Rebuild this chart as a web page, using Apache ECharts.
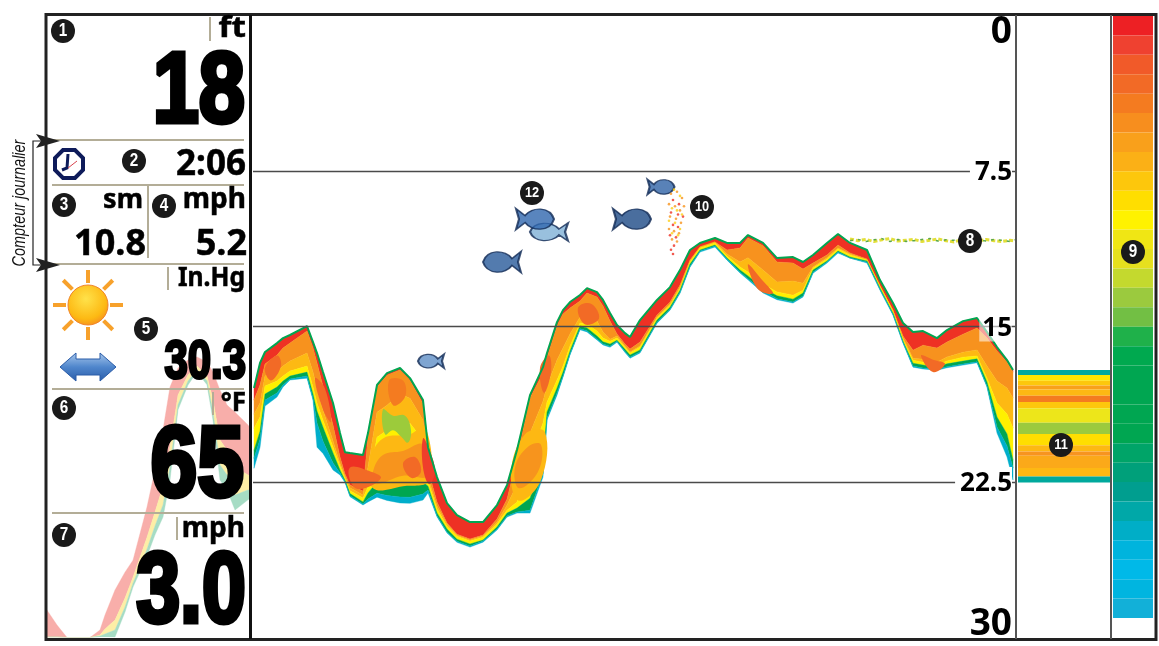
<!DOCTYPE html>
<html>
<head>
<meta charset="utf-8">
<style>
    html, body { margin: 0; padding: 0; background: #fff; }
    #chart { width: 1159px; height: 646px; }
</style>
<script src="https://cdn.jsdelivr.net/npm/echarts@6/dist/echarts.min.js"></script>
</head>
<body>
<div id="chart"></div>
<script>
// sonar history: one entry per ping, depths in ft, band values are thickness in ft
const pings = [1,7,12,24,30,37,54,60,64,70, 80,87,92,97,110,115,124,134,147,157, 170,175,184,194,204,217,230,244,254,264, 277,290,294,304,310,317,327,334,344,350, 357,364,372,377,387,404,417,427,437,447, 462,474,487,495,510,524,540,550,560,574, 585,597,614,627,640,650,660,670,684,694, 710,724,734,744,754,760];
const bottomTop = [17.97,16.76,16.23,15.80,15.56,15.41,14.98,15.75,16.28,17.20, 18.69,20.14,21.06,21.10,21.20,20.14,17.82,17.25,17.00,17.49, 18.55,20.82,22.26,23.52,24.10,24.43,24.43,23.61,22.65,20.96, 18.31,16.96,16.28,14.79,14.21,13.82,13.48,13.15,13.34,13.72, 14.35,14.93,15.32,15.51,14.69,13.72,13.10,12.28,11.31,10.97, 10.73,10.97,10.97,10.59,10.97,11.70,11.65,11.89,11.55,10.97, 10.54,10.97,11.31,12.76,13.87,14.83,15.27,15.22,15.56,15.17, 14.74,14.59,15.27,15.99,16.62,17.10];
const redBand = [.58,1.06,.58,.58,.48,.39,.24,.29,.48,.68, 1.06,1.16,1.06,1.54,1.74,.19,.1,.1,.1,.1, .19,1.06,1.21,.96,.92,.82,.63,.68,.68,.39, .14,.29,.24,.19,.19,.29,.29,.24,.24,.29, .39,.43,.53,.58,1.06,.72,.72,.72,.48,.19, .19,.34,.24,.14,.14,.19,.29,.34,.39,.58, .53,.48,.43,.29,.34,.63,.87,.68,.48,.58, .63,.48,.29,.19,.1,.1];
const orangeBand = [.68,.87,.58,.77,.87,.87,1.06,1.16,1.25,1.16, .77,.29,.1,.14,.19,1.45,1.21,1.45,1.16,.87, .77,.39,.19,.05,.05,.05,.05,.14,.29,1.25, 1.69,1.35,1.35,1.64,1.64,1.25,.77,1.06,1.16,1.25, .87,.1,.1,.14,.19,.1,.1,.1,.05,0, 0,.19,.68,.96,1.16,.96,.87,.68,.19,.14, .14,.05,.05,0,.05,.1,.39,.68,.68,.72, .87,1.06,1.35,1.45,1.25,1.25];
const amberBand = [.68,.68,.48,.48,.48,.48,.63,.72,.68,.48, .29,.14,.1,.14,.14,.96,1.21,1.21,1.35,1.21, .96,.19,.14,.1,.05,.05,.05,.1,.24,.87, 1.21,1.06,.77,.96,.87,.58,.29,.43,.48,.29, .1,.1,.05,.05,.05,.05,.05,.05,.05,.05, .05,.1,.24,.68,.68,.48,.68,.34,.05,.05, .05,.05,0,0,0,.05,.1,.14,.14,.19, .24,.29,.58,1.06,1.25,1.45];
const yellowBand = [1.06,.68,.39,.29,.24,.24,.29,.34,.39,.34, .29,.19,.1,.14,.19,.29,2.17,2.51,2.89,2.89, 2.03,.24,.19,.14,.14,.14,.14,.14,.14,.29, 1.93,1.93,.48,.39,.29,.24,.14,.19,.24,.19, .14,.1,.1,.1,.14,.1,.1,.1,.1,.1, .1,.1,.14,.19,.19,.19,.19,.14,.1,.1, .1,.1,.05,.1,.1,.1,.14,.14,.1,.14, .19,.14,.19,.68,.96,1.54];
const greenBand = [.39,.39,.29,.29,.19,.14,.19,.19,.58,.68, .48,.14,.05,.1,.1,.29,.53,.63,.72,.68, .58,.19,.14,.14,.1,.1,.05,.1,.14,.19, .58,.48,.29,.24,.19,.14,.14,.14,.14,.1, .1,.05,.1,.1,.1,.1,.1,.1,.1,.05, .05,.05,.1,.14,.14,.14,.14,.14,.1,.05, .05,.05,.05,.05,.05,.05,.14,.14,.1,.14, .14,.14,.19,.48,.58,.39];
const cyanBand = [.48,.39,.29,.19,.1,.05,.1,.1,1.16,.58, .34,.1,.05,.05,.05,.14,.19,.24,.29,.29, .29,.14,.05,.05,.05,.05,.05,.05,.05,.05, .14,.19,.1,.1,.05,.05,.05,.05,.05,.05, .05,.05,.05,.05,.05,.05,.05,.05,.05,.05, .05,.05,.05,.05,.1,.05,.05,.05,.05,.05, .05,0,.05,.05,.05,.05,.05,.05,.05,.05, .05,.05,.05,.29,.53,.58];

// stronger returns inside the wide sections
const patches = [
    { color: "#fdb813", points: [[118,21.4],[130,20.4],[157,20.2],[172,19.8],[176,22.4],[150,22.7],[120,22.8]] },
    { color: "#f7941d", points: [[120,22.0],[130,21.2],[150,21.0],[170,20.7],[175,22.2],[150,22.2],[122,22.6]] },
    { color: "#f26a26", points: [[97,21.8],[118,22.0],[128,22.3],[112,22.8],[100,22.7]] },
    { color: "#f26a26", points: [[150,21.6],[162,21.3],[168,22.0],[158,22.3]] },
    { color: "#ef3e2b", points: [[170,20.4],[176,20.9],[182,22.0],[176,22.6],[170,21.8]] },
    { color: "#f47b20", points: [[136,17.6],[150,17.6],[152,18.4],[140,18.8]] },
    { color: "#fdb813", points: [[258,22.0],[272,20.2],[292,20.1],[288,22.4],[266,23.4]] },
    { color: "#f7941d", points: [[262,21.8],[275,20.8],[288,20.7],[285,22.0],[266,22.8]] },
    { color: "#f26a26", points: [[287,17.0],[296,16.4],[298,17.2],[291,18.2]] },
    { color: "#f26a26", points: [[12,17.0],[24,16.4],[28,16.9],[18,17.6]] },
    { color: "#f26a26", points: [[62,17.5],[72,18.0],[78,19.6],[70,19.0]] },
    { color: "#f26a26", points: [[325,14.1],[338,13.9],[346,14.6],[332,14.9]] },
    { color: "#f26a26", points: [[668,16.4],[680,16.6],[692,16.8],[680,17.2]] },
    { color: "#f26a26", points: [[495,12.0],[510,12.8],[520,13.4],[505,13.2]] },
    { color: "#9ccb3b", points: [[130,19.0],[140,19.3],[152,19.3],[158,20.0],[155,20.6],[148,20.3],[140,20.0],[132,20.2]] }
];

// washed out trace behind the left panel
const palePings = [0,10,20,43,53,58,68,78,86,100,108,116,123,131,141,150,160,166,173,180,188,201,203];
const paleTop = [28.68,29.40,30,30,29.64,28.92,27.71,26.85,26.27,23.71,21.92,19.99,17.92,17.0,16.62,16.47,16.71,17.2,18.07,18.79,19.13,19.75,19.9];
const palePink = [1.3,.58,0,0,.24,.67,1.45,1.25,.82,1.45,2.03,2.7,2.89,1.3,.72,.43,.67,1.35,2.41,2.17,2.65,2.41,2.3];
const paleYellow = [0,0,0,0,.05,.24,.48,.43,.29,.58,.67,.92,.96,.48,.29,.19,.24,.58,1.2,1.2,1.35,.72,.7];
const paleGreen = [0,0,0,0,.05,.14,.34,.24,.19,.34,.43,.58,.63,.24,.19,.1,.19,.39,.72,.72,.72,.48,.4];

const clutterPings = [597,605,613,621,629,637,645,653,661,669,677,685,693,701,709,717,725,733,741,749,757,762];
const clutterYellow = [10.78,10.86,10.8,10.9,10.82,10.76,10.88,10.84,10.8,10.9,10.84,10.78,10.86,10.92,10.8,10.84,10.88,10.8,10.86,10.9,10.84,10.88];
const clutterGreen = [10.86,10.8,10.9,10.82,10.76,10.9,10.8,10.9,10.86,10.8,10.76,10.88,10.82,10.84,10.9,10.78,10.82,10.88,10.8,10.84,10.9,10.82];

// fish: ping, depth, length, height; fishRight ones are flipped
const fishLeft = [[178,16.67,26,14],[249,11.89,38,21],[296,10.44,38,18]];
const fishRight = [[282,9.82,38,21],[379,9.82,38,21],[408,8.27,27,15]];
const fishColors = { 178: "#5f8fc6", 249: "#285a9a", 296: "#7fb0d6", 282: "#2f67ae", 379: "#1d4a86", 408: "#2f63a6" };

const schoolOrange = [[418,8.6],[424,8.5],[429,8.8],[416,9.1],[422,9.2],[427,9.4],[431,9.2],[417,9.7],[423,9.8],[428,10.0],[416,10.3],[421,10.4],[426,10.5],[419,10.8],[424,10.9]];
const schoolRed = [[420,8.9],[426,9.1],[418,9.5],[425,9.6],[430,9.7],[420,10.1],[425,10.2],[417,10.6],[423,10.7],[421,11.1],[418,11.3],[420,11.5]];
const schoolYellow = [[421,8.4],[427,8.7],[419,9.3],[424,9.4],[429,9.6],[416,9.9],[422,10.0],[427,10.3],[419,10.5],[425,10.6]];

const depthTicks = { min: 0, max: 30, interval: 7.5 };

// flasher bar, thickness in ft from the top
const flasherStart = 17.1;
const flasherBands = [.24,.28,.22,.2,.3,.3,.3,.7,.54,.55,.3,.2,.6,.4,.3];
const flasherColors = ["#00a99d","#ffe600","#fdc70c","#f9a01b","#fdb813","#f47b20","#fdc70c","#ede61a","#9bca3e","#ffde00","#fdb813","#f79420","#fba919","#fdb813","#00a99d"];

// colour scale, top to bottom
const scaleColors = ["#ed2024","#ef4130","#f15a29","#f26a26","#f47b20","#f78e1e","#f9a01b","#fbb016","#fdc70c","#ffde00","#fff200","#f0e614","#e6e01e","#c4d92e","#9bca3e","#72bf44","#1fb14a","#00a94f","#00a651","#00a651","#00a651","#00a651","#00a468","#00a07a","#009e8f","#00a8a8","#00aec7","#00b4dd","#00b9e8","#00b5e0","#12b0d8"];

const BODY = '"Noto Sans", "Open Sans", sans-serif';
const HEAVY = '"Liberation Sans", sans-serif';

// panel readouts
const readouts = [
    { text: "ft", x: 246, y: 29, size: 29, family: BODY, sx: 1.15, heavy: .5 },
    { text: "18", x: 245, y: 94, size: 100, family: HEAVY, sx: .83, heavy: 5 },
    { text: "2:06", x: 246, y: 165, size: 35, family: BODY, heavy: .5 },
    { text: "sm", x: 143, y: 200, size: 27, family: BODY, heavy: .5 },
    { text: "mph", x: 246, y: 200, size: 28, family: BODY, heavy: .5 },
    { text: "10.8", x: 146, y: 245, size: 36, family: BODY, heavy: .5 },
    { text: "5.2", x: 247, y: 245, size: 36, family: BODY, heavy: .5 },
    { text: "In.Hg", x: 245, y: 279, size: 26, family: BODY, sx: .95, heavy: .5 },
    { text: "30.3", x: 246, y: 363, size: 53, family: HEAVY, sx: .79, heavy: 3 },
    { text: "°F", x: 246, y: 404, size: 26, family: BODY, heavy: .5 },
    { text: "65", x: 244, y: 468, size: 100, family: HEAVY, sx: .84, heavy: 5 },
    { text: "mph", x: 245, y: 529, size: 28, family: BODY, heavy: .5 },
    { text: "3.0", x: 246, y: 594, size: 100, family: HEAVY, sx: .79, heavy: 5 }
];
const badges = [
    ["1",63,31],["2",134,161],["3",64,205],["4",164,206],["5",146,329],["6",64,408],["7",64,535],
    ["8",970,241],["9",1133,252],["10",702,207],["11",1061,445],["12",532,193]
];
const panelRules = [
    [52,140,244,140],[52,185,244,185],[46,264,244,264],[52,389,244,389],[52,513,244,513],
    [148,186,148,258],[210,17,210,41],[168,267,168,290],[213,392,213,415],[177,517,177,540]
];

const FISH_PATH = "path://M0 10C4 -1 22 -1 29 7L38 1L35 10L38 19L29 13C22 21 4 21 0 10Z";

const chart = echarts.init(document.getElementById("chart"), null, { renderer: "canvas" });

// each layer is a polygon between two running depth totals, in the grid's coordinates
function layerSeries(xs, top, bands, colors, axisIdx, z) {
    const layers = [];
    let upper = top.slice();
    bands.forEach((band, b) => {
        const lower = upper.map((v, i) => v + band[i]);
        layers.push({ color: colors[b], upper: upper, lower: lower });
        upper = lower;
    });
    return {
        type: "custom",
        xAxisIndex: axisIdx,
        yAxisIndex: axisIdx,
        clip: true,
        z: z,
        data: layers.map((l, i) => [i]),
        renderItem: function (params, api) {
            const l = layers[api.value(0)];
            const points = [];
            xs.forEach((x, i) => points.push(api.coord([x, l.upper[i]])));
            for (let i = xs.length - 1; i >= 0; i--) {
                points.push(api.coord([xs[i], l.lower[i]]));
            }
            return { type: "polygon", shape: { points: points }, style: { fill: l.color, stroke: l.color, lineWidth: .4 } };
        }
    };
}

function patchSeries() {
    return {
        type: "custom",
        xAxisIndex: 0,
        yAxisIndex: 0,
        clip: true,
        data: patches.map((p, i) => [i]),
        z: 2,
        renderItem: function (params, api) {
            const p = patches[api.value(0)];
            return {
                type: "polygon",
                shape: { points: p.points.map(pt => api.coord(pt)), smooth: .4 },
                style: { fill: p.color }
            };
        }
    };
}

function fishSeries(list, rotate) {
    return {
        type: "scatter",
        xAxisIndex: 0,
        yAxisIndex: 0,
        symbol: FISH_PATH,
        symbolRotate: rotate,
        symbolSize: d => [d[2], d[3]],
        data: list.map(d => ({ value: d, itemStyle: { color: fishColors[d[0]] } })),
        itemStyle: { borderColor: "#122a55", borderWidth: 1.6 },
        z: 6
    };
}

function dotSeries(list, color) {
    return {
        type: "scatter",
        xAxisIndex: 0,
        yAxisIndex: 0,
        symbolSize: 2.6,
        data: list,
        itemStyle: { color: color },
        z: 6
    };
}

function panelGraphics() {
    const els = [];
    const Z = 100;
    // pane frame
    els.push({ type: "rect", shape: { x: 46, y: 14.5, width: 1110, height: 625 }, style: { fill: "none", stroke: "#222", lineWidth: 3 }, z: Z });
    els.push({ type: "line", shape: { x1: 250.5, y1: 15, x2: 250.5, y2: 639 }, style: { stroke: "#111", lineWidth: 3 }, z: Z });
    els.push({ type: "line", shape: { x1: 1016, y1: 15, x2: 1016, y2: 639 }, style: { stroke: "#555", lineWidth: 2 }, z: Z });
    els.push({ type: "line", shape: { x1: 1111, y1: 15, x2: 1111, y2: 639 }, style: { stroke: "#555", lineWidth: 2 }, z: Z });

    panelRules.forEach(r => els.push({ type: "line", shape: { x1: r[0], y1: r[1], x2: r[2], y2: r[3] }, style: { stroke: "#b3ad97", lineWidth: 2 }, z: Z }));

    readouts.forEach(r => els.push({
        type: "text",
        x: r.x,
        y: r.y,
        scaleX: r.sx || 1,
        style: {
            text: r.text,
            font: `bold ${r.size}px ${r.family}`,
            fill: "#000",
            stroke: r.heavy ? "#000" : null,
            lineWidth: r.heavy || 0,
            align: "right",
            verticalAlign: "middle"
        },
        z: Z + 1
    }));

    badges.forEach(b => {
        els.push({ type: "circle", shape: { cx: b[1], cy: b[2], r: 12 }, style: { fill: "#1a1a1a" }, z: Z + 2 });
        els.push({
            type: "text",
            x: b[1],
            y: b[2],
            scaleX: .85,
            style: { text: b[0], font: `bold ${b[0].length > 1 ? 15 : 18}px ${HEAVY}`, fill: "#fff", align: "center", verticalAlign: "middle" },
            z: Z + 3
        });
    });

    // sun icon
    for (let i = 0; i < 8; i++) {
        const a = i * Math.PI / 4;
        els.push({
            type: "line",
            shape: { x1: 88 + 22 * Math.cos(a), y1: 305 + 22 * Math.sin(a), x2: 88 + 35 * Math.cos(a), y2: 305 + 35 * Math.sin(a) },
            style: { stroke: "#f7a12b", lineWidth: 4 },
            z: Z
        });
    }
    els.push({
        type: "circle",
        shape: { cx: 88, cy: 305, r: 20 },
        style: {
            fill: { type: "radial", x: .45, y: .35, r: .7, colorStops: [{ offset: 0, color: "#ffe24a" }, { offset: .7, color: "#fdb913" }, { offset: 1, color: "#f58a1f" }] },
            stroke: "#f0842a",
            lineWidth: 1
        },
        z: Z
    });

    // pressure trend arrow
    els.push({
        type: "polygon",
        shape: { points: [[60,367],[76,353],[76,359],[100,359],[100,353],[116,367],[100,381],[100,375],[76,375],[76,381]] },
        style: {
            fill: { type: "linear", x: 0, y: 0, x2: 0, y2: 1, colorStops: [{ offset: 0, color: "#a9c8ec" }, { offset: .5, color: "#4f86cc" }, { offset: 1, color: "#2a5ca8" }] },
            stroke: "#2a5ca8",
            lineWidth: 1
        },
        z: Z
    });

    // clock icon
    els.push({
        type: "polygon",
        shape: { points: [[63,150],[75,150],[83,158],[83,170],[75,178],[63,178],[55,170],[55,158]] },
        style: { fill: "#fff", stroke: "#0e1b5a", lineWidth: 4 },
        z: Z
    });
    els.push({ type: "polyline", shape: { points: [[68,154],[67,168],[62,170]] }, style: { fill: "none", stroke: "#0e1b5a", lineWidth: 3 }, z: Z });
    els.push({ type: "line", shape: { x1: 68, y1: 168, x2: 77, y2: 161 }, style: { stroke: "#d8434e", lineWidth: 1 }, z: Z });

    // side note outside the frame
    els.push({
        type: "text",
        x: 20,
        y: 203,
        rotation: Math.PI / 2,
        scaleX: .76,
        style: { text: "Compteur journalier", font: `italic 19px ${HEAVY}`, fill: "#111", align: "center", verticalAlign: "middle" },
        z: Z
    });
    els.push({ type: "polyline", shape: { points: [[44,141],[33,141],[33,265],[44,265]] }, style: { fill: "none", stroke: "#222", lineWidth: 1.2 }, z: Z });
    [141, 265].forEach(y => els.push({
        type: "polygon",
        shape: { points: [[60,y],[36,y - 7],[41,y],[36,y + 7]] },
        style: { fill: "#222" },
        z: Z + 1
    }));
    return els;
}

const option = {
    animation: false,
    backgroundColor: "#fff",
    grid: [
        { left: 253, top: 15.5, width: 763, height: 622 },
        { left: 47, top: 15.5, width: 203, height: 622 },
        { left: 1018, top: 15.5, width: 92, height: 622 },
        { left: 1113, top: 16, width: 40, height: 602 }
    ],
    xAxis: [
        { gridIndex: 0, type: "value", min: 0, max: 763, show: false },
        { gridIndex: 1, type: "value", min: 0, max: 203, show: false },
        { gridIndex: 2, type: "category", data: ["flasher"], show: false },
        { gridIndex: 3, type: "value", min: 0, max: 1, show: false }
    ],
    yAxis: [
        {
            gridIndex: 0,
            type: "value",
            inverse: true,
            position: "right",
            min: depthTicks.min,
            max: depthTicks.max,
            interval: depthTicks.interval,
            z: 10,
            axisLine: { show: false },
            axisTick: { show: false },
            splitLine: { show: true, showMinLine: false, showMaxLine: false, lineStyle: { color: "#4a4a4a", width: 1.4 } },
            axisLabel: {
                inside: true,
                margin: 4,
                verticalAlignMinLabel: "top",
                verticalAlignMaxLabel: "bottom",
                formatter: v => (v === 0 || v === 30) ? `{big|${v}}` : (v === 15 ? `{soft|${v}}` : `{mid|${v}}`),
                rich: {
                    big: { fontFamily: BODY, fontWeight: "bold", fontSize: 37, lineHeight: 30, color: "#000", padding: [3, 0, 0, 0] },
                    mid: { fontFamily: BODY, fontWeight: "bold", fontSize: 26, lineHeight: 24, color: "#000", backgroundColor: "#fff", padding: [4, 0, 0, 5] },
                    soft: { fontFamily: BODY, fontWeight: "bold", fontSize: 26, lineHeight: 24, color: "#000", backgroundColor: "rgba(255,255,255,0.55)", padding: [4, 0, 0, 3] }
                }
            }
        },
        { gridIndex: 1, type: "value", inverse: true, min: 0, max: 30, show: false },
        { gridIndex: 2, type: "value", inverse: true, min: 0, max: 30, show: false },
        { gridIndex: 3, type: "category", inverse: true, data: scaleColors.map((c, i) => i + 1), show: false }
    ],
    series: [
        // faded trace
        layerSeries(palePings, paleTop, [palePink, paleYellow, paleGreen], ["#f8aeaa", "#fdeea6", "#a6dcc4"], 1, 1),

        // main trace
        layerSeries(pings, bottomTop,
            [redBand, orangeBand, amberBand, yellowBand, greenBand, cyanBand],
            ["#ee3124", "#f7921e", "#fdb913", "#fff000", "#00a651", "#00aecb"], 0, 2),
        patchSeries(),
        {
            name: "bottom",
            type: "line",
            xAxisIndex: 0,
            yAxisIndex: 0,
            showSymbol: false,
            data: pings.map((x, i) => [x, bottomTop[i]]),
            lineStyle: { width: 2, color: "#00a651" },
            z: 3
        },

        // surface clutter
        {
            type: "line", xAxisIndex: 0, yAxisIndex: 0, showSymbol: false,
            data: clutterPings.map((x, i) => [x, clutterYellow[i]]),
            lineStyle: { color: "#e3df3a", width: 3, type: [4, 2] }, z: 4
        },
        {
            type: "line", xAxisIndex: 0, yAxisIndex: 0, showSymbol: false,
            data: clutterPings.map((x, i) => [x, clutterGreen[i]]),
            lineStyle: { color: "#5aa84a", width: 1.5, type: [3, 5] }, z: 4
        },

        fishSeries(fishLeft, 0),
        fishSeries(fishRight, 180),
        dotSeries(schoolOrange, "#f7941d"),
        dotSeries(schoolRed, "#ee3124"),
        dotSeries(schoolYellow, "#fdd017"),

        // flasher
        {
            type: "bar", stack: "flasher", xAxisIndex: 2, yAxisIndex: 2, barWidth: "100%",
            data: [flasherStart], itemStyle: { color: "transparent" }
        },
        ...flasherBands.map((v, i) => ({
            type: "bar", stack: "flasher", xAxisIndex: 2, yAxisIndex: 2, barWidth: "100%",
            data: [v], itemStyle: { color: flasherColors[i] }
        })),

        // colour scale
        {
            type: "bar", xAxisIndex: 3, yAxisIndex: 3, barWidth: "100%",
            data: scaleColors.map(c => ({ value: 1, itemStyle: { color: c } }))
        }
    ],
    graphic: { elements: panelGraphics() }
};

chart.setOption(option);
</script>
</body>
</html>
